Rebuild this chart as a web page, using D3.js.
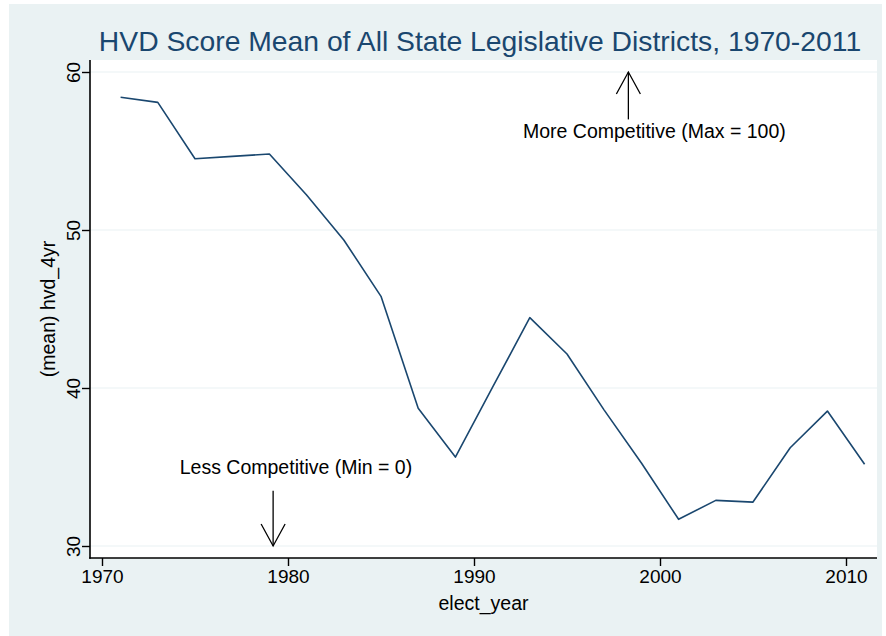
<!DOCTYPE html>
<html>
<head>
<meta charset="utf-8">
<script src="https://cdn.jsdelivr.net/npm/d3@7"></script>
<style>
  body { margin: 0; background: #ffffff; }
  svg text { font-family: "Liberation Sans", Arial, sans-serif; }
</style>
</head>
<body>
<svg id="chart" width="886" height="636"></svg>
<script>
// mean HVD score by election year (odd years 1971-2011)
var years = [1971, 1973, 1975, 1977, 1979, 1981, 1983, 1985, 1987, 1989, 1991,
             1993, 1995, 1997, 1999, 2001, 2003, 2005, 2007, 2009, 2011];
var hvd = [58.40, 58.08, 54.51, 54.66, 54.81, 52.22, 49.37, 45.80, 38.72, 35.63, 40.05,
           44.45, 42.15, 38.60, 35.25, 31.69, 32.89, 32.78, 36.22, 38.54, 35.17];

var xTicks = [1970, 1980, 1990, 2000, 2010];
var yTicks = [30, 40, 50, 60];

// annotation arrows: [year, from, to]
var arrowUp = [1998.3, 57.0, 60.0];
var arrowDown = [1979.2, 33.5, 30.0];
var noteUp = "More Competitive (Max = 100)";
var noteDown = "Less Competitive (Min = 0)";

var svg = d3.select("#chart");

// plot region bounds
var plotLeft = 90, plotRight = 877, plotTop = 60, plotBottom = 558;

var x = d3.scaleLinear().domain([1970, 2010]).range([102, 846]);
var y = d3.scaleLinear().domain([30, 60]).range([546, 72]);

// graph background
svg.append("rect")
  .attr("x", 9).attr("y", 4)
  .attr("width", 873).attr("height", 632)
  .attr("fill", "#eaf2f3");

// plot region
svg.append("rect")
  .attr("x", plotLeft).attr("y", plotTop)
  .attr("width", plotRight - plotLeft).attr("height", plotBottom - plotTop)
  .attr("fill", "#ffffff");

// gridlines
svg.append("g")
  .selectAll("line")
  .data(yTicks)
  .enter()
  .append("line")
  .attr("x1", plotLeft).attr("x2", plotRight)
  .attr("y1", function(d) { return y(d); })
  .attr("y2", function(d) { return y(d); })
  .attr("stroke", "#eaf2f3")
  .attr("stroke-width", 1.2);

// title
svg.append("text")
  .attr("x", 480).attr("y", 51)
  .attr("text-anchor", "middle")
  .attr("font-size", "28.3px")
  .attr("fill", "#1a476f")
  .text("HVD Score Mean of All State Legislative Districts, 1970-2011");

// x axis
var xAxis = svg.append("g")
  .attr("transform", "translate(0," + plotBottom + ")")
  .call(d3.axisBottom(x).tickValues(xTicks).tickSize(8).tickSizeOuter(0).tickPadding(4)
    .tickFormat(d3.format("d")));
xAxis.select(".domain").remove();
xAxis.selectAll(".tick line").attr("stroke", "#000").attr("stroke-width", 1.4);
xAxis.selectAll(".tick text")
  .attr("font-size", "19px")
  .attr("fill", "#000")
  .attr("font-family", "Liberation Sans, Arial, sans-serif");

svg.append("line")
  .attr("x1", plotLeft - 0.8).attr("x2", plotRight)
  .attr("y1", plotBottom).attr("y2", plotBottom)
  .attr("stroke", "#000").attr("stroke-width", 1.6);

svg.append("text")
  .attr("x", (plotLeft + plotRight) / 2).attr("y", 610)
  .attr("text-anchor", "middle")
  .attr("font-size", "19.5px")
  .attr("fill", "#000")
  .text("elect_year");

// y axis
var yAxis = svg.append("g")
  .attr("transform", "translate(" + plotLeft + ",0)")
  .call(d3.axisLeft(y).tickValues(yTicks).tickSize(8).tickSizeOuter(0).tickPadding(0));
yAxis.select(".domain").remove();
yAxis.selectAll(".tick line").attr("stroke", "#000").attr("stroke-width", 1.4);
yAxis.selectAll(".tick text")
  .attr("font-size", "19px")
  .attr("fill", "#000")
  .attr("font-family", "Liberation Sans, Arial, sans-serif")
  .attr("text-anchor", "middle")
  .attr("x", null).attr("dy", null)
  .attr("transform", "translate(-10,0) rotate(-90)");

svg.append("line")
  .attr("x1", plotLeft).attr("x2", plotLeft)
  .attr("y1", plotTop).attr("y2", plotBottom + 0.8)
  .attr("stroke", "#000").attr("stroke-width", 1.6);

svg.append("text")
  .attr("transform", "translate(55," + ((plotTop + plotBottom) / 2) + ") rotate(-90)")
  .attr("text-anchor", "middle")
  .attr("font-size", "19.5px")
  .attr("fill", "#000")
  .text("(mean) hvd_4yr");

// series line
var line = d3.line()
  .x(function(d, i) { return x(years[i]); })
  .y(function(d) { return y(d); });

svg.append("path")
  .datum(hvd)
  .attr("d", line)
  .attr("fill", "none")
  .attr("stroke", "#1a476f")
  .attr("stroke-width", 1.6)
  .attr("stroke-linejoin", "round");

// arrows with open heads
function drawArrow(a) {
  var px = x(a[0]), y0 = y(a[1]), y1 = y(a[2]);
  var dir = y1 < y0 ? 1 : -1;
  var g = svg.append("g")
    .attr("stroke", "#000")
    .attr("stroke-width", 1.3)
    .attr("fill", "none");
  g.append("line")
    .attr("x1", px).attr("x2", px)
    .attr("y1", y0).attr("y2", y1);
  g.append("path")
    .attr("d", "M" + (px - 12) + "," + (y1 + dir * 22) + "L" + px + "," + y1 + "L" + (px + 12) + "," + (y1 + dir * 22));
}
drawArrow(arrowUp);
drawArrow(arrowDown);

svg.append("text")
  .attr("x", x(1999.7)).attr("y", y(55.82))
  .attr("text-anchor", "middle")
  .attr("font-size", "19.5px")
  .attr("fill", "#000")
  .text(noteUp);

svg.append("text")
  .attr("x", x(1980.43)).attr("y", y(34.56))
  .attr("text-anchor", "middle")
  .attr("font-size", "19.5px")
  .attr("fill", "#000")
  .text(noteDown);
</script>
</body>
</html>
